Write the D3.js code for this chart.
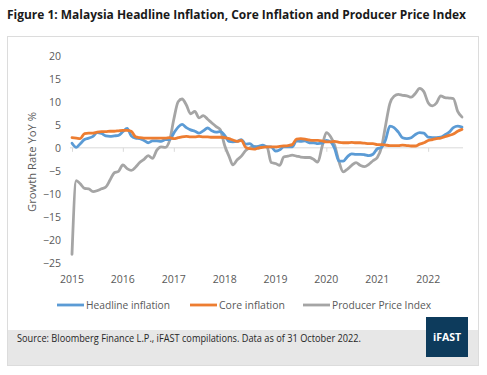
<!DOCTYPE html>
<html>
<head>
<meta charset="utf-8">
<script src="https://cdn.jsdelivr.net/npm/d3@7"></script>
<style>
  body { margin: 0; background: #fff; }
  svg { display: block; font-family: "Open Sans", "Liberation Sans", sans-serif; }
</style>
</head>
<body>
<div id="chart"></div>
<script>
// monthly YoY %, Jan 2015 .. Sep 2022
const startMonth = new Date(2015, 0, 1);
const yearTicks = [2015, 2016, 2017, 2018, 2019, 2020, 2021, 2022];
const yTicks = [20, 15, 10, 5, 0, -5, -10, -15, -20, -25];

const headline = [
  1.0, 0.1, 0.9, 1.8, 2.1, 2.5, 3.3, 3.1, 2.6, 2.5, 2.6, 2.7,
  3.5, 4.2, 2.6, 2.1, 2.0, 1.6, 1.1, 1.5, 1.5, 1.4, 1.8, 1.8,
  3.2, 4.5, 5.1, 4.4, 3.9, 3.6, 3.2, 3.7, 4.3, 3.7, 3.4, 3.5,
  2.7, 1.4, 1.3, 1.4, 1.8, 0.8, 0.9, 0.2, 0.3, 0.6, 0.2, 0.2,
  -0.7, -0.4, 0.2, 0.2, 0.2, 1.5, 1.4, 1.5, 1.1, 1.1, 0.9, 1.0,
  1.6, 1.3, -0.2, -2.9, -2.9, -1.9, -1.3, -1.4, -1.4, -1.5, -1.7, -1.4,
  -0.2, 0.1, 1.7, 4.7, 4.4, 3.4, 2.2, 2.0, 2.2, 2.9, 3.3, 3.2,
  2.3, 2.2, 2.2, 2.3, 2.8, 3.4, 4.4, 4.7, 4.5
];

const core = [
  2.2, 2.1, 2.0, 3.1, 3.2, 3.2, 3.4, 3.5, 3.5, 3.6, 3.6, 3.7,
  3.8, 3.8, 3.6, 2.4, 2.2, 2.1, 2.1, 2.1, 2.1, 2.1, 2.1, 2.2,
  2.0, 2.2, 2.4, 2.5, 2.4, 2.4, 2.5, 2.4, 2.4, 2.3, 2.3, 2.3,
  2.2, 2.0, 1.7, 1.4, 1.6, 0.1, -0.2, -0.3, 0.0, 0.1, 0.2, 0.2,
  0.2, 0.3, 0.4, 0.5, 0.7, 1.9, 2.0, 1.9, 1.7, 1.6, 1.6, 1.5,
  1.3, 1.3, 1.4, 1.2, 1.1, 1.1, 1.2, 1.1, 1.1, 1.0, 0.9, 0.9,
  0.7, 0.7, 0.6, 0.5, 0.5, 0.5, 0.6, 0.5, 0.4, 0.4, 0.8, 1.1,
  1.6, 1.8, 2.0, 2.1, 2.4, 2.7, 3.0, 3.6, 4.0
];

const ppi = [
  -23.1, -7.1, -7.8, -8.8, -8.9, -9.5, -9.3, -8.9, -8.5, -7.0, -5.4, -5.1,
  -3.7, -4.5, -4.9, -4.2, -3.2, -2.5, -1.7, -2.3, -0.5, 0.2, 0.1, 1.5,
  6.2, 10.0, 10.6, 9.3, 7.4, 7.9, 6.5, 7.0, 6.2, 5.4, 4.6, 3.9,
  0.5, -1.8, -3.7, -2.6, -1.8, -0.6, 0.0, 0.3, -0.1, 0.3, 0.2, -3.2,
  -3.4, -3.8, -2.0, -1.8, -1.6, -1.8, -2.0, -2.1, -2.1, -2.5, -3.1, 0.2,
  3.3, 2.4, 0.5, -3.0, -5.2, -4.6, -3.8, -3.2, -3.8, -4.1, -3.6, -2.8,
  -2.1, 0.2, 4.8, 9.6, 11.2, 11.6, 11.4, 11.3, 11.0, 11.8, 12.9, 12.2,
  9.8, 9.1, 9.7, 11.3, 10.9, 10.8, 10.7, 7.9, 6.7
];

const seriesNames = ["Headline inflation", "Core inflation", "Producer Price Index"];
const seriesColors = ["#5b9bd5", "#ed7d31", "#a5a5a5"];

const width = 487, height = 375;
const textColor = "#595959";

const svg = d3.select("#chart").append("svg")
  .attr("width", width)
  .attr("height", height);

// title
svg.append("text")
  .attr("x", 7)
  .attr("y", 19)
  .attr("font-size", 12.5)
  .attr("font-weight", "bold")
  .attr("fill", "#1a1a1a")
  .attr("textLength", 459)
  .attr("lengthAdjust", "spacingAndGlyphs")
  .text("Figure 1: Malaysia Headline Inflation, Core Inflation and Producer Price Index");

// card + footer band
svg.append("rect")
  .attr("x", 7.5).attr("y", 36.5)
  .attr("width", 471).attr("height", 329)
  .attr("fill", "#fff")
  .attr("stroke", "#dcdcdc");

svg.append("rect")
  .attr("x", 8).attr("y", 330)
  .attr("width", 470).attr("height", 35)
  .attr("fill", "#e7e7e7");

// scales
const x = d3.scaleTime()
  .domain([startMonth, d3.timeMonth.offset(startMonth, headline.length - 1)])
  .range([72, 462]);

const y = d3.scaleLinear()
  .domain([-25, 20])
  .range([263, 55.7]);

const dates = headline.map((d, i) => d3.timeMonth.offset(startMonth, i));

// y tick labels (no axis line)
const yAxis = d3.axisLeft(y).tickValues(yTicks).tickSize(0).tickPadding(0);
const yg = svg.append("g")
  .attr("transform", "translate(61,0)")
  .call(yAxis);
yg.select(".domain").remove();
yg.selectAll("text")
  .attr("font-size", 10.5)
  .attr("fill", textColor)
  .attr("font-family", "Open Sans, sans-serif");

// x axis along zero
const xg = svg.append("g")
  .attr("transform", `translate(0,${y(0)})`)
  .call(d3.axisBottom(x)
    .tickValues(yearTicks.map(yr => new Date(yr, 0, 1)))
    .tickSize(4)
    .tickFormat(""));
xg.select(".domain")
  .attr("d", `M70,0H463`)
  .attr("stroke", "#d9d9d9");
xg.selectAll(".tick line").attr("stroke", "#d9d9d9");

// year labels at the bottom
svg.append("g")
  .selectAll("text")
  .data(yearTicks)
  .join("text")
  .attr("x", d => x(new Date(d, 0, 1)))
  .attr("y", 283)
  .attr("text-anchor", "middle")
  .attr("font-size", 10.5)
  .attr("fill", textColor)
  .text(d => d);

// y label
svg.append("text")
  .attr("transform", "translate(36,162) rotate(-90)")
  .attr("text-anchor", "middle")
  .attr("font-size", 11.5)
  .attr("fill", textColor)
  .attr("textLength", 100)
  .attr("lengthAdjust", "spacingAndGlyphs")
  .text("Growth Rate YoY %");

// lines
const line = d3.line()
  .x((d, i) => x(dates[i]))
  .y(d => y(d))
  .curve(d3.curveMonotoneX);

const allSeries = [headline, core, ppi];
svg.append("g")
  .selectAll("path")
  .data([2, 0, 1])
  .join("path")
  .attr("d", k => line(allSeries[k]))
  .attr("fill", "none")
  .attr("stroke", k => seriesColors[k])
  .attr("stroke-width", 2.8)
  .attr("stroke-linejoin", "round")
  .attr("stroke-linecap", "round");

// legend
const legendX = [57, 190, 303];
const legendLen = [84, 66, 99];
const legend = svg.append("g")
  .selectAll("g")
  .data(seriesNames)
  .join("g")
  .attr("transform", (d, i) => `translate(${legendX[i]},305)`);
legend.append("line")
  .attr("x1", 0).attr("x2", 27)
  .attr("stroke", (d, i) => seriesColors[i])
  .attr("stroke-width", 2.8);
legend.append("text")
  .attr("x", 29)
  .attr("y", 4)
  .attr("font-size", 11)
  .attr("fill", textColor)
  .attr("textLength", (d, i) => legendLen[i])
  .attr("lengthAdjust", "spacingAndGlyphs")
  .text(d => d);

// source note
svg.append("text")
  .attr("x", 17)
  .attr("y", 342)
  .attr("font-size", 10)
  .attr("fill", "#262626")
  .attr("textLength", 344)
  .attr("lengthAdjust", "spacingAndGlyphs")
  .text("Source: Bloomberg Finance L.P., iFAST compilations. Data as of 31 October 2022.");

// logo box
svg.append("rect")
  .attr("x", 426).attr("y", 317)
  .attr("width", 42).attr("height", 40)
  .attr("fill", "#0d3b5c");
svg.append("text")
  .attr("x", 447)
  .attr("y", 341)
  .attr("text-anchor", "middle")
  .attr("font-size", 10.5)
  .attr("font-weight", "bold")
  .attr("fill", "#fff")
  .text("iFAST");
</script>
</body>
</html>
